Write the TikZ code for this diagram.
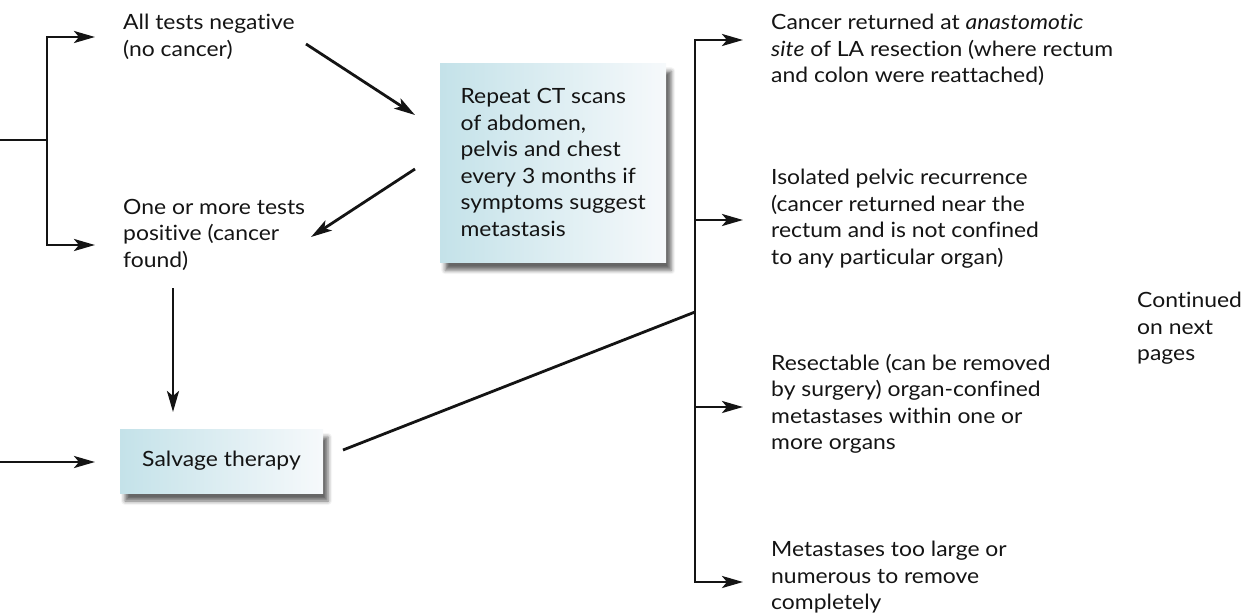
\documentclass[tikz,border=0pt]{standalone}
\usepackage{fontspec}
\setmainfont{Lato}[FakeStretch=1.09,Ligatures={NoCommon}]
\usetikzlibrary{arrows.meta,shadows.blur}
\definecolor{boxL}{RGB}{196,226,233}
\definecolor{boxR}{RGB}{246,249,251}
\definecolor{ink}{RGB}{20,20,20}
\begin{document}
\begin{tikzpicture}[x=1pt,y=-1pt,
  txt/.style={anchor=north west,inner sep=0pt,align=left,text=ink,
    font=\fontsize{21}{26.5}\selectfont},
  shadedbox/.style={rectangle,inner sep=0pt,align=left,text=ink,
    font=\fontsize{21}{26.5}\selectfont,
    left color=boxL,right color=boxR,
    blur shadow={shadow xshift=5pt,shadow yshift=-8pt,shadow opacity=60,shadow blur radius=4pt}},
  link/.style={line width=2.8pt,draw=ink},
  arr/.style={link,-{Stealth[length=21pt,width=12pt,inset=5pt]}}]
\useasboundingbox (0,0) rectangle (1241,613);

% outcome texts on the left
\node[txt] (neg) at (123,14) {All tests negative\\(no cancer)};
\node[txt] (pos) at (123,199) {One or more tests\\positive (cancer\\found)};

% shaded boxes
\node[shadedbox,anchor=north west,minimum width=226pt,minimum height=199pt] (rep) at (440,63)
  {Repeat CT scans\\of abdomen,\\pelvis and chest\\every 3 months if\\symptoms suggest\\metastasis};
\node[shadedbox,minimum width=203pt,minimum height=64pt] (salv) at (221.5,461) {Salvage therapy};

% recurrence categories on the right
\node[txt] (r1) at (771,14) {Cancer returned at \textit{anastomotic}\\\textit{site} of LA resection (where rectum\\and colon were reattached)};
\node[txt] (r2) at (771,169) {Isolated pelvic recurrence\\(cancer returned near the\\rectum and is not confined\\to any particular organ)};
\node[txt] (r3) at (771,354) {Resectable (can be removed\\by surgery) organ-confined\\metastases within one or\\more organs};
\node[txt] (r4) at (771,541) {Metastases too large or\\numerous to remove\\completely};
\node[txt] (cont) at (1137,292) {Continued\\on next\\pages};

% connector end points
\coordinate (inA) at (0,140);
\coordinate (jA) at (47,140);
\coordinate (negIn) at (95,37);
\coordinate (posIn) at (95,245);
\coordinate (negOut) at (306,44);
\coordinate (repIn) at (415,115);
\coordinate (repOut) at (415,169);
\coordinate (posIn2) at (311,237);
\coordinate (posOut) at (173,288);
\coordinate (salvIn) at (173,412);
\coordinate (inB) at (0,462);
\coordinate (salvInL) at (95,462);
\coordinate (salvOut) at (343,450);
\coordinate (jB) at (695,312);
\coordinate (jB2) at (695,220);
\coordinate (jB3) at (695,407);
\coordinate (r1In) at (743,40);
\coordinate (r2In) at (743,220);
\coordinate (r3In) at (743,407);
\coordinate (r4In) at (743,582);

% left bracket
\draw[link] (inA) -- (jA);
\draw[arr] (jA) |- (negIn);
\draw[arr] (jA) |- (posIn);

% flow between the boxes
\draw[arr] (negOut) -- (repIn);
\draw[arr] (repOut) -- (posIn2);
\draw[arr] (posOut) -- (salvIn);
\draw[arr] (inB) -- (salvInL);
\draw[link] (salvOut) -- (jB);

% right bracket
\draw[arr] (jB2) |- (r1In);
\draw[arr] (jB2) -- (r2In);
\draw[arr] (jB3) -- (r3In);
\draw[arr] (jB3) |- (r4In);
\draw[link] (jB2) -- (jB3);
\end{tikzpicture}
\end{document}
